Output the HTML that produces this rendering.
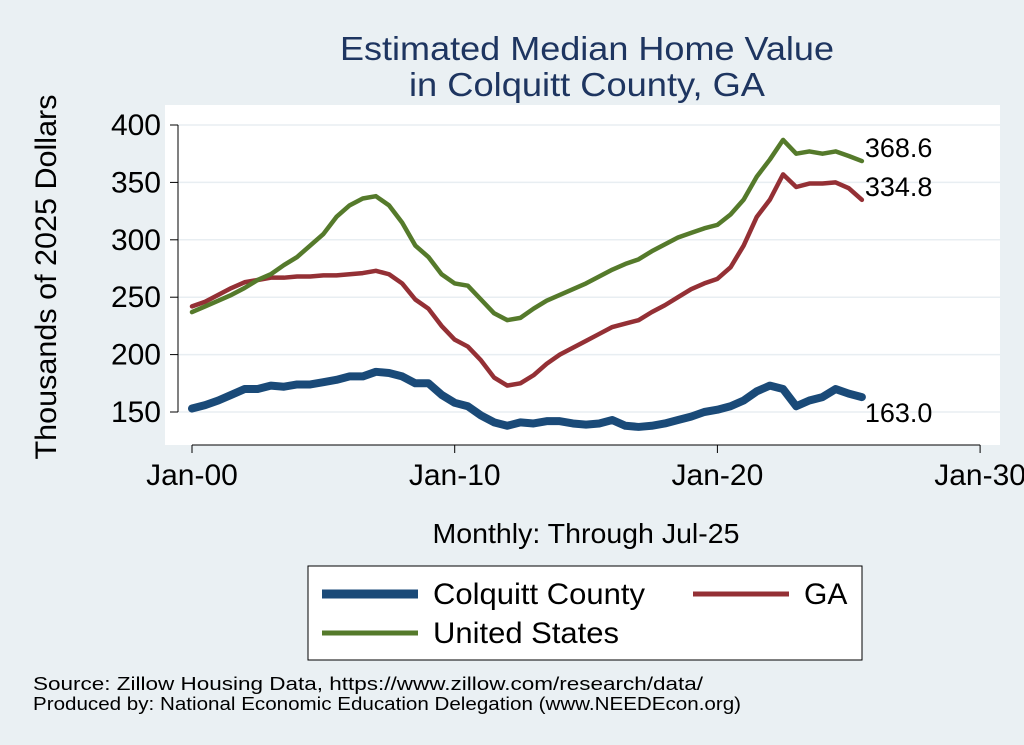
<!DOCTYPE html>
<html><head><meta charset="utf-8"><style>
body{margin:0;background:#eaf0f3;}
svg{display:block;font-family:"Liberation Sans",sans-serif;}
</style></head><body>
<svg id="chart" width="1024" height="745" viewBox="0 0 1024 745">
<rect width="1024" height="745" fill="#eaf0f3"/>
<rect x="165" y="105" width="835" height="340" fill="#ffffff"/>
<text x="587" y="60" font-size="33" fill="#1e3560" text-anchor="middle" textLength="494" lengthAdjust="spacingAndGlyphs">Estimated Median Home Value</text>
<text x="587" y="96" font-size="33" fill="#1e3560" text-anchor="middle" textLength="356" lengthAdjust="spacingAndGlyphs">in Colquitt County, GA</text>
<text transform="translate(56,277) rotate(-90)" font-size="30" text-anchor="middle" textLength="365" lengthAdjust="spacingAndGlyphs">Thousands of 2025 Dollars</text>
<text x="586" y="543" font-size="28" text-anchor="middle" textLength="307" lengthAdjust="spacingAndGlyphs">Monthly: Through Jul-25</text>
<g id="grid"></g><g id="axes"></g><g id="series"></g>
<rect x="308" y="566" width="554" height="94" fill="#fff" stroke="#000" stroke-width="1"/>
<line x1="322" y1="594" x2="418" y2="594" stroke="#1a4a78" stroke-width="9"/>
<text x="433" y="604" font-size="30" textLength="212" lengthAdjust="spacingAndGlyphs">Colquitt County</text>
<line x1="693" y1="594" x2="789" y2="594" stroke="#943035" stroke-width="5"/>
<text x="804" y="604" font-size="30">GA</text>
<line x1="322" y1="633" x2="418" y2="633" stroke="#557a2b" stroke-width="5"/>
<text x="433" y="643" font-size="30" textLength="186" lengthAdjust="spacingAndGlyphs">United States</text>
<text x="33" y="690" font-size="18" textLength="670" lengthAdjust="spacingAndGlyphs">Source: Zillow Housing Data, https://www.zillow.com/research/data/</text>
<text x="33" y="710" font-size="18" textLength="708" lengthAdjust="spacingAndGlyphs">Produced by: National Economic Education Delegation (www.NEEDEcon.org)</text>
</svg>
<script>
const years=[2000,2000.5,2001,2001.5,2002,2002.5,2003,2003.5,2004,2004.5,2005,2005.5,2006,2006.5,2007,2007.5,2008,2008.5,2009,2009.5,2010,2010.5,2011,2011.5,2012,2012.5,2013,2013.5,2014,2014.5,2015,2015.5,2016,2016.5,2017,2017.5,2018,2018.5,2019,2019.5,2020,2020.5,2021,2021.5,2022,2022.5,2023,2023.5,2024,2024.5,2025,2025.5];
const usValues=[237,242,247,252,258,265,270,278,285,295,305,320,330,336,338,330,315,295,285,270,262,260,248,236,230,232,240,247,252,257,262,268,274,279,283,290,296,302,306,310,313,322,335,355,370,387,375,377,375,377,373,368.6];
const gaValues=[242,246,252,258,263,265,267,267,268,268,269,269,270,271,273,270,262,248,240,225,213,207,195,180,173,175,182,192,200,206,212,218,224,227,230,237,243,250,257,262,266,276,295,320,335,357,346,349,349,350,345,334.8];
const colquittValues=[153,156,160,165,170,170,173,172,174,174,176,178,181,181,185,184,181,175,175,165,158,155,147,141,138,141,140,142,142,140,139,140,143,138,137,138,140,143,146,150,152,155,160,168,173,170,155,160,163,170,166,163];
const yTicks=[150,200,250,300,350,400];
const xTicks=[2000,2010,2020,2030];
const xTickLabels=["Jan-00","Jan-10","Jan-20","Jan-30"];
const NS="http://www.w3.org/2000/svg";
const X=v=>192+(v-2000)*26.27;
const Y=v=>412-(v-150)*(287/250);
function mk(tag,attrs,parent){const e=document.createElementNS(NS,tag);for(const k in attrs)e.setAttribute(k,attrs[k]);document.getElementById(parent).appendChild(e);return e;}
yTicks.forEach(t=>{
  const g=mk('line',{x1:178,x2:1000,y1:Y(t),y2:Y(t),stroke:'#e8eef2','stroke-width':1.5},'grid');
  
  
  const tk=mk('line',{x1:170,x2:178,y1:Y(t),y2:Y(t),stroke:'#000','stroke-width':1},'axes');
  
  
  const tx=mk('text',{x:161,y:Y(t)+10,'font-size':30,'text-anchor':'end'},'axes');
  tx.textContent=t;
  
  
});
const ya=mk('line',{x1:178,x2:178,y1:Y(400),y2:Y(150),stroke:'#000','stroke-width':1},'axes');


const xa=mk('line',{x1:X(2000),x2:X(2030),y1:445,y2:445,stroke:'#000','stroke-width':1},'axes');


xTicks.forEach((t,i)=>{
  const tk=mk('line',{x1:X(t),x2:X(t),y1:445,y2:453,stroke:'#000','stroke-width':1},'axes');
  
  
  const tx=mk('text',{x:X(t),y:485,'font-size':30,'text-anchor':'middle'},'axes');
  tx.textContent=xTickLabels[i];
  
  
});
function series(vals,color,w,name,dy){
  const p=mk('polyline',{points:vals.map((v,i)=>X(years[i])+','+Y(v)).join(' '),fill:'none',stroke:color,'stroke-width':w,'stroke-linejoin':'round','stroke-linecap':'round'},'series');
  
  
  const last=vals[vals.length-1];
  const tx=mk('text',{x:X(years[years.length-1])+3,y:Y(last)+dy,'font-size':27},'series');
  tx.textContent=last.toFixed(1);
  
  
}
series(colquittValues,'#1a4a78',8,'colquitt',25);
series(gaValues,'#943035',4.5,'ga',-4);
series(usValues,'#557a2b',4.5,'us',-4);
</script>
</body></html>
